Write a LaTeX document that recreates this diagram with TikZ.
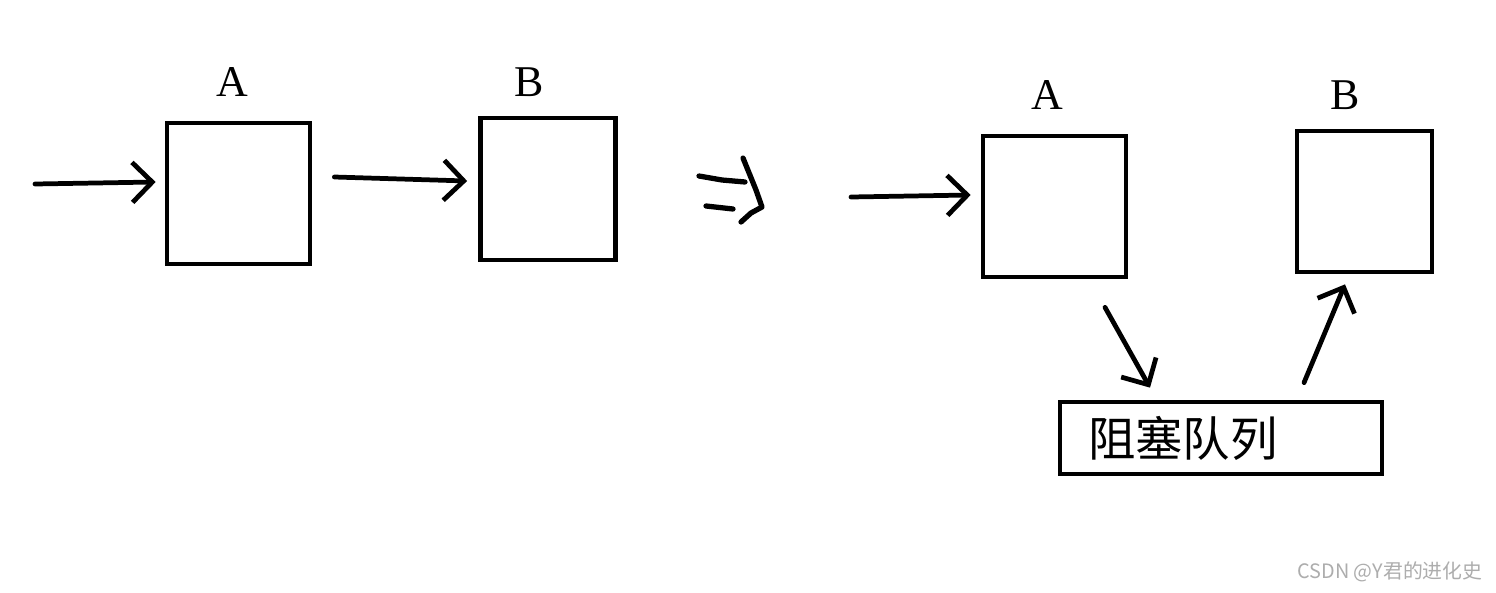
\documentclass[tikz,border=0pt]{standalone}
\usepackage{fontspec}
\setmainfont{Liberation Serif}
\newfontfamily\cjk{Noto Sans CJK SC}
\usetikzlibrary{positioning,arrows.meta}

\begin{document}
\begin{tikzpicture}[
  x=0.02cm, y=-0.02cm,
  line width=2.7pt,
  box/.style={draw, minimum width=2.86cm, minimum height=2.82cm, inner sep=0pt},
  narrowbox/.style={box, minimum width=2.7cm},
  lbl/.style={font=\fontsize{25}{25}\selectfont, inner sep=0pt},
  arr/.style={-{Straight Barb[length=4mm,width=8mm]}, line cap=round},
  hand/.style={line width=3pt, line cap=round, line join=round}
]
  \fill[white] (0,0) rectangle (1496,592);

  % before
  \node (a1) [box] at (238.5,193.5) {};
  \node (b1) [narrowbox, minimum height=2.84cm] at (548,189) {};
  \node (la1) [lbl] at (232,82) {A};
  \node (lb1) [lbl] at (529,82) {B};

  \coordinate (in1) at (35,184);
  \draw [arr] (in1) -- ([shift={(-9,-11.5)}]a1.west);
  \draw [arr] ([shift={(22,-16.5)}]a1.east) -- ([shift={(-11,-8)}]b1.west);

  % the hand drawn "=>"
  \draw [hand] (699,176) -- (722,180) -- (745,182);
  \draw [hand] (706,206) -- (733,209);
  \draw [hand] (743,158) -- (756,190) -- (762,207) -- (751,213) -- (741,222);

  % after
  \node (a2) [box] at (1054.5,206.5) {};
  \node (b2) [narrowbox] at (1364.5,201.5) {};
  \node (la2) [lbl] at (1047,95) {A};
  \node (lb2) [lbl] at (1345,95) {B};

  \node (q) [draw, minimum width=6.44cm, minimum height=1.44cm, inner sep=0pt] at (1221,438) {};
  \node (qt) [right=0.56cm of q.west, anchor=west, inner sep=0pt,
              font=\cjk\fontsize{27}{27}\selectfont] {阻塞队列};

  \coordinate (in2) at (851,197);
  \draw [arr] (in2) -- ([shift={(-10,-11.5)}]a2.west);
  \draw [arr] ([shift={(50.5,28)}]a2.south) -- ([shift={(-71,-12)}]q.north);
  \draw [arr] ([shift={(83,-17)}]q.north) -- ([shift={(-19.5,10)}]b2.south);

  \node (mark) [text=black!32, inner sep=0pt, font=\cjk\fontsize{11.3}{11.3}\selectfont] at (1390,572) {CSDN @Y君的进化史};
\end{tikzpicture}
\end{document}
